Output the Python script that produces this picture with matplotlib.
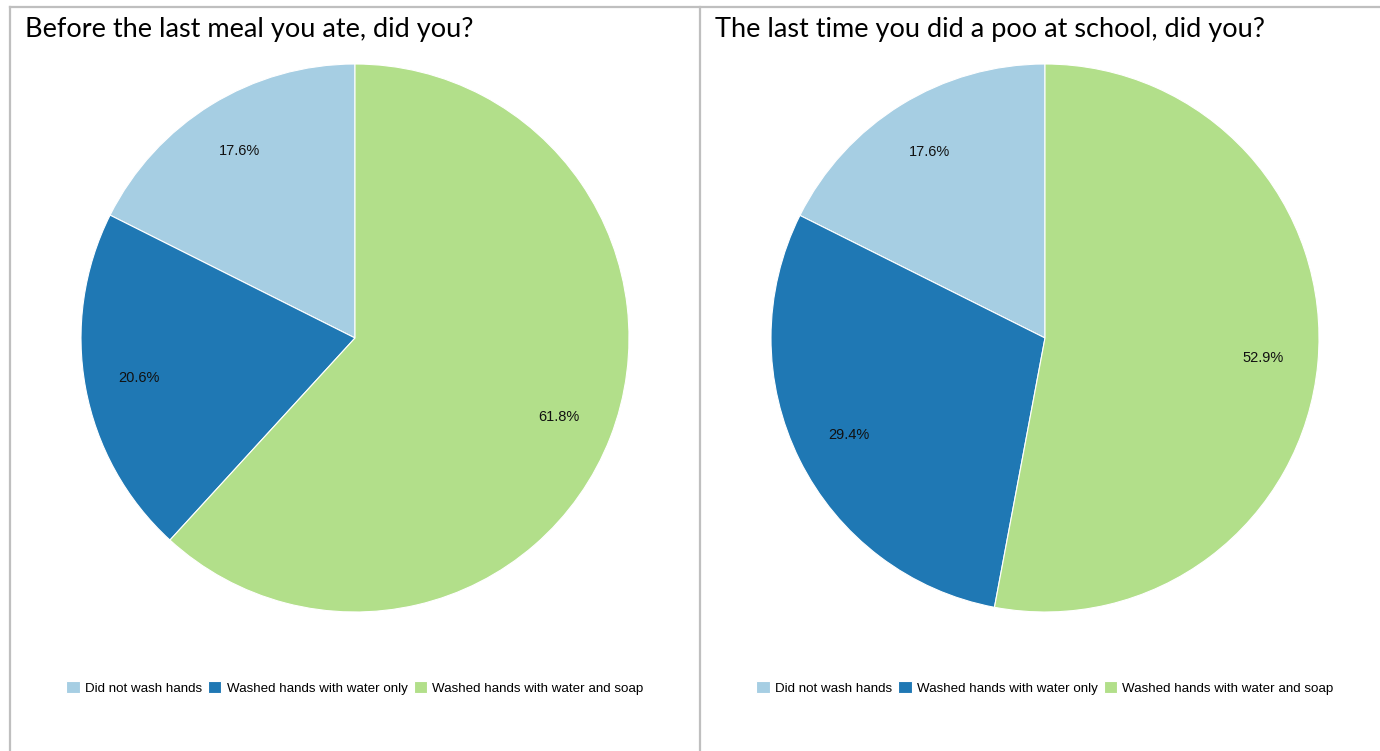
import matplotlib.pyplot as plt
from matplotlib.lines import Line2D

# survey responses (percent of pupils)
categories = ["Did not wash hands", "Washed hands with water only",
              "Washed hands with water and soap"]
meal_values = [17.6, 20.6, 61.8]
school_poo_values = [17.6, 29.4, 52.9]
titles = ["Before the last meal you ate, did you?",
          "The last time you did a poo at school, did you?"]

colors = ["#a6cee3", "#1f78b4", "#b2df8a"]

W, H = 1380, 751
fig = plt.figure(figsize=(W / 100, H / 100), dpi=100)


def px_box(left, top, right, bottom):
    # convert pixel box (top-left origin) into figure fractions
    return [left / W, 1 - bottom / H, (right - left) / W, (bottom - top) / H]


def draw_panel(values, title, cx, title_x):
    r = 274
    ax = fig.add_axes(px_box(cx - r, 338 - r, cx + r, 338 + r))
    wedges, _, autotexts = ax.pie(
        values, colors=colors, startangle=90, counterclock=True,
        autopct="%.1f%%", pctdistance=0.8,
        wedgeprops=dict(edgecolor="white", linewidth=0.8),
        textprops=dict(fontsize=10.5, family="Liberation Sans", color="#111111"),
    )
    # show the reported percentages rather than the renormalised ones
    for txt, v in zip(autotexts, values):
        txt.set_text(f"{v:.1f}%")
    ax.set_xlim(-1, 1)
    ax.set_ylim(-1, 1)
    ax.set_aspect("equal")

    fig.text(title_x / W, 1 - 29 / H, title, fontsize=19.5, family="Lato",
             va="center", ha="left", color="black")

    fig.legend(wedges, categories, loc="center", ncol=3, frameon=False,
               bbox_to_anchor=(cx / W, 1 - 688 / H),
               bbox_transform=fig.transFigure,
               prop=dict(family="Liberation Sans", size=9.6),
               handlelength=1.0, handleheight=1.0, handletextpad=0.4,
               columnspacing=0.45, borderpad=0)


draw_panel(meal_values, titles[0], 355, 25)
draw_panel(school_poo_values, titles[1], 1045, 715)

# table-style cell borders
border = dict(color="#bfbfbf", linewidth=1.6, transform=fig.transFigure)
fig.add_artist(Line2D([9.5 / W, 1], [1 - 6.5 / H, 1 - 6.5 / H], **border))
fig.add_artist(Line2D([9.5 / W, 9.5 / W], [0, 1 - 6.5 / H], **border))
fig.add_artist(Line2D([700 / W, 700 / W], [0, 1 - 6.5 / H], **border))

fig.savefig("out.png", dpi=100, facecolor="white")
